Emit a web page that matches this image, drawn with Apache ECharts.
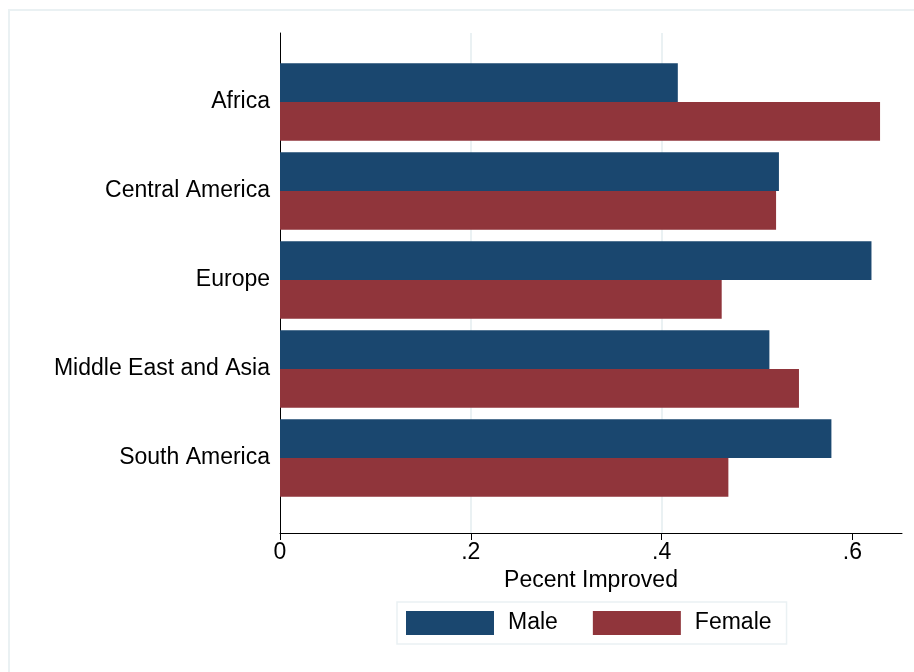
<!DOCTYPE html>
<html>
<head>
<meta charset="utf-8">
<script src="https://cdn.jsdelivr.net/npm/echarts@6/dist/echarts.min.js"></script>
<style>
  html, body { margin: 0; padding: 0; background: #fff; }
  #main { width: 914px; height: 672px; }
</style>
</head>
<body>
<div id="main"></div>
<script>
// data
var regions = ['Africa', 'Central America', 'Europe', 'Middle East and Asia', 'South America'];
var maleValues = [0.417, 0.523, 0.620, 0.513, 0.578];
var femaleValues = [0.629, 0.520, 0.463, 0.544, 0.470];
var xTicks = [0, 0.2, 0.4, 0.6];

var navy = '#1a476f';
var maroon = '#90353b';
var lightLine = '#eaf1f3';
var fontName = '"Liberation Sans", Arial, Helvetica, sans-serif';
var fontSize = 23;
var xMax = 0.652;

var chartDom = document.getElementById('main');
var myChart = echarts.init(chartDom);

function tickText(v) {
    if (v === 0) return '0';
    return v.toFixed(1).replace(/^0/, '');
}

var option = {
    backgroundColor: '#fff',
    animation: false,
    textStyle: { fontFamily: fontName },
    graphic: [
        {
            type: 'rect',
            z: -10,
            shape: { x: 9, y: 10, width: 1000, height: 1000 },
            style: { fill: 'none', stroke: lightLine, lineWidth: 2 }
        }
    ],
    legend: {
        data: ['Male', 'Female'],
        left: 397,
        top: 602,
        icon: 'rect',
        itemWidth: 88,
        itemHeight: 24,
        itemGap: 35,
        padding: [9, 15, 9, 9],
        borderColor: lightLine,
        borderWidth: 1.5,
        textStyle: { fontSize: fontSize, color: '#000', fontFamily: fontName, padding: [0, 0, 0, 9] }
    },
    grid: [
        // frame: axes, gridlines
        { left: 280, top: 33, width: 622, height: 500 },
        // bars
        { left: 280, top: 57.5, width: 622, height: 445 }
    ],
    xAxis: [
        {
            type: 'value',
            gridIndex: 0,
            min: 0,
            max: xMax,
            interval: 0.2,
            name: 'Pecent Improved',
            nameLocation: 'middle',
            nameGap: 33,
            nameTextStyle: { fontSize: fontSize, color: '#000', fontFamily: fontName },
            axisLine: { show: true, lineStyle: { color: '#000', width: 1 } },
            axisTick: { show: true, length: 7, lineStyle: { color: '#000' }, customValues: xTicks },
            axisLabel: {
                fontSize: fontSize,
                color: '#000',
                margin: 8,
                customValues: xTicks,
                formatter: tickText
            },
            splitLine: {
                show: true,
                showMinLine: false,
                showMaxLine: false,
                lineStyle: { color: lightLine, width: 2 }
            }
        },
        {
            type: 'value',
            gridIndex: 1,
            min: 0,
            max: xMax,
            show: false
        }
    ],
    yAxis: [
        {
            type: 'value',
            gridIndex: 0,
            min: 0,
            max: 1,
            axisLine: { show: true, lineStyle: { color: '#000', width: 1 } },
            axisTick: { show: false },
            axisLabel: { show: false },
            splitLine: { show: false }
        },
        {
            type: 'category',
            gridIndex: 1,
            inverse: true,
            data: regions,
            axisLine: { show: false },
            axisTick: { show: false },
            axisLabel: { fontSize: fontSize, color: '#000', margin: 10 },
            splitLine: { show: false }
        }
    ],
    series: [
        {
            name: 'Male',
            type: 'bar',
            xAxisIndex: 1,
            yAxisIndex: 1,
            barGap: '0%',
            barCategoryGap: '13%',
            itemStyle: { color: navy },
            data: maleValues
        },
        {
            name: 'Female',
            type: 'bar',
            xAxisIndex: 1,
            yAxisIndex: 1,
            barGap: '0%',
            barCategoryGap: '13%',
            itemStyle: { color: maroon },
            data: femaleValues
        }
    ]
};

myChart.setOption(option);
</script>
</body>
</html>
